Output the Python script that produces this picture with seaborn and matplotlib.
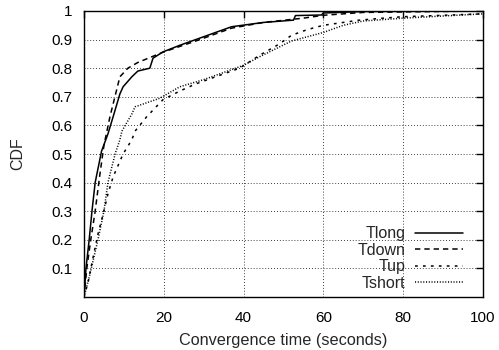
import numpy as np
import pandas as pd
import matplotlib
matplotlib.use('Agg')
import matplotlib.pyplot as plt
import seaborn as sns

# CDF curves
tlong_x = [0, 0.5, 1.3, 2, 2.8, 4.4, 6, 7.3, 9, 9.8, 12, 13.5, 16.5, 17.3, 19.8, 24, 28, 33, 37, 45, 52.5, 53, 59.5, 60, 70, 100]
tlong_y = [0, 0.10, 0.20, 0.30, 0.40, 0.51, 0.57, 0.63, 0.71, 0.735, 0.77, 0.79, 0.80, 0.835, 0.857, 0.88, 0.90, 0.925, 0.945, 0.96, 0.968, 0.984, 0.986, 0.993, 0.998, 1.0]

tdown_x = [0, 0.7, 1.7, 2.8, 4, 5, 6.5, 9, 11, 13.5, 17, 20, 28, 37, 45, 55, 60, 70, 100]
tdown_y = [0, 0.10, 0.20, 0.30, 0.43, 0.53, 0.63, 0.77, 0.80, 0.82, 0.84, 0.857, 0.895, 0.94, 0.96, 0.975, 0.985, 0.995, 1.0]

tup_x = [0, 1, 2.3, 3.5, 4.8, 6, 7.3, 9.8, 12, 12.8, 15.7, 19.8, 24, 28, 33, 39, 44, 49, 52, 56, 60, 65, 69, 75, 80, 90, 100]
tup_y = [0, 0.05, 0.14, 0.22, 0.29, 0.36, 0.42, 0.50, 0.55, 0.58, 0.63, 0.69, 0.72, 0.745, 0.77, 0.80, 0.845, 0.885, 0.915, 0.935, 0.95, 0.96, 0.968, 0.975, 0.98, 0.985, 0.99]

tshort_x = [0, 1.5, 3.5, 5, 6, 7.8, 9, 9.5, 12, 12.8, 19, 24, 30, 40, 44, 52, 60, 65, 70, 80, 100]
tshort_y = [0, 0.08, 0.20, 0.30, 0.40, 0.50, 0.55, 0.58, 0.64, 0.665, 0.695, 0.735, 0.76, 0.81, 0.84, 0.895, 0.925, 0.95, 0.965, 0.975, 0.99]

labels = ['Tlong', 'Tdown', 'Tup', 'Tshort']
styles = ['-', (0, (3.5, 2.6)), (0, (1.8, 3.4)), (0, (0.7, 1.1))]

sns.set_theme(style='white')
plt.rcParams['font.family'] = ['Liberation Sans', 'DejaVu Sans']

fig = plt.figure(figsize=(4.99, 3.5), dpi=100)
ax = fig.add_axes([0.1683, 0.1514, 0.7996, 0.8172])

series = [(tlong_x, tlong_y), (tdown_x, tdown_y), (tup_x, tup_y), (tshort_x, tshort_y)]
for (xs, ys), lab, ls in zip(series, labels, styles):
    df = pd.DataFrame({'x': xs, 'y': ys})
    sns.lineplot(data=df, x='x', y='y', ax=ax, color='black', linestyle=ls,
                 linewidth=1.1, label=lab, sort=False)

ax.set_xlim(0, 100)
ax.set_ylim(0, 1)
ax.set_xticks([0, 20, 40, 60, 80, 100])
ax.set_xticklabels(['0', '20', '40', '60', '80', '100'])
ax.set_yticks([0.1, 0.2, 0.3, 0.4, 0.5, 0.6, 0.7, 0.8, 0.9, 1.0])
ax.set_yticklabels(['0.1', '0.2', '0.3', '0.4', '0.5', '0.6', '0.7', '0.8', '0.9', '1'])
ax.tick_params(direction='in', length=5, width=1, top=True, right=True,
               labelsize=11, colors='black', pad=8)
ax.tick_params(axis='x', pad=10)
ax.grid(True, color='black', linestyle=(0, (1, 2.5)), linewidth=0.6)
for sp in ax.spines.values():
    sp.set_color('black')
    sp.set_linewidth(1)

ax.set_xlabel('Convergence time (seconds)', fontsize=11.7, labelpad=6)
ax.set_ylabel('CDF', fontsize=11.5, labelpad=19)

leg = ax.legend(loc='lower right', bbox_to_anchor=(0.958, 0.01), frameon=False,
                markerfirst=False, fontsize=11.5, handlelength=3.0, handletextpad=0.6,
                labelspacing=0.1, borderpad=0.2, borderaxespad=0)

fig.savefig('out.png', dpi=100)
